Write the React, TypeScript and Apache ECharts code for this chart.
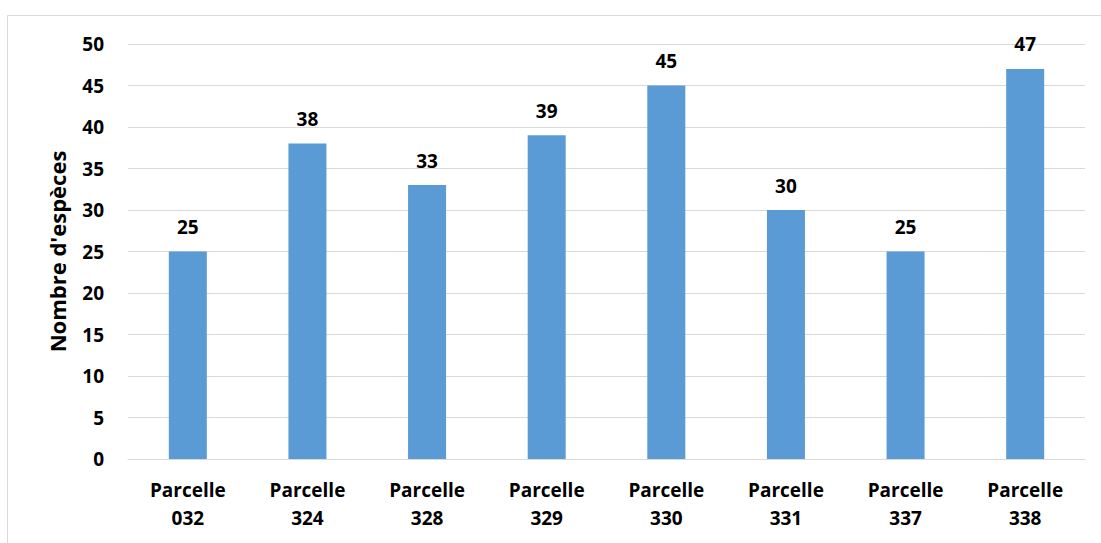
import React, { useEffect, useRef } from "react";
import * as echarts from "echarts";

const categories = ["Parcelle\n032", "Parcelle\n324", "Parcelle\n328", "Parcelle\n329", "Parcelle\n330", "Parcelle\n331", "Parcelle\n337", "Parcelle\n338"];
const values = [25, 38, 33, 39, 45, 30, 25, 47];
const yAxisName = "Nombre d'espèces";

const FONT = "'Open Sans', sans-serif";

export default function App() {
  const ref = useRef<HTMLDivElement>(null);
  useEffect(() => {
    if (!ref.current) return;
    const chart = echarts.init(ref.current, undefined, { renderer: "svg" });
    chart.setOption({
      animation: false,
      backgroundColor: "#ffffff",
      graphic: [
        {
          type: "rect",
          shape: { x: 7.5, y: 15.5, width: 1200, height: 600 },
          style: { fill: "none", stroke: "#d9d9d9", lineWidth: 1 },
          silent: true,
        },
      ],
      grid: { left: 128, right: 16, top: 44, bottom: 84 },
      xAxis: {
        type: "category",
        data: categories,
        axisLine: { lineStyle: { color: "#d9d9d9", width: 1 } },
        axisTick: { show: false },
        axisLabel: {
          color: "#000",
          fontFamily: FONT,
          fontWeight: "bold",
          fontSize: 19,
          lineHeight: 28,
          margin: 17,
          interval: 0,
        },
      },
      yAxis: {
        type: "value",
        min: 0,
        max: 50,
        interval: 5,
        name: yAxisName,
        nameLocation: "middle",
        nameGap: 60,
        nameRotate: 90,
        nameTextStyle: { color: "#000", fontFamily: FONT, fontWeight: "bold", fontSize: 22 },
        axisLine: { show: false },
        axisTick: { show: false },
        splitLine: { lineStyle: { color: "#d9d9d9", width: 1 } },
        axisLabel: { color: "#000", fontFamily: FONT, fontWeight: "bold", fontSize: 19, margin: 24 },
      },
      series: [
        {
          type: "bar",
          data: values,
          barWidth: 38,
          itemStyle: { color: "#5b9bd5" },
          label: {
            show: true,
            position: "top",
            distance: 15,
            color: "#000",
            fontFamily: FONT,
            fontWeight: "bold",
            fontSize: 19,
          },
        },
      ],
    });
    return () => chart.dispose();
  }, []);
  return <div ref={ref} style={{ position: "fixed", left: 0, top: 0, width: 1101, height: 543 }} />;
}
